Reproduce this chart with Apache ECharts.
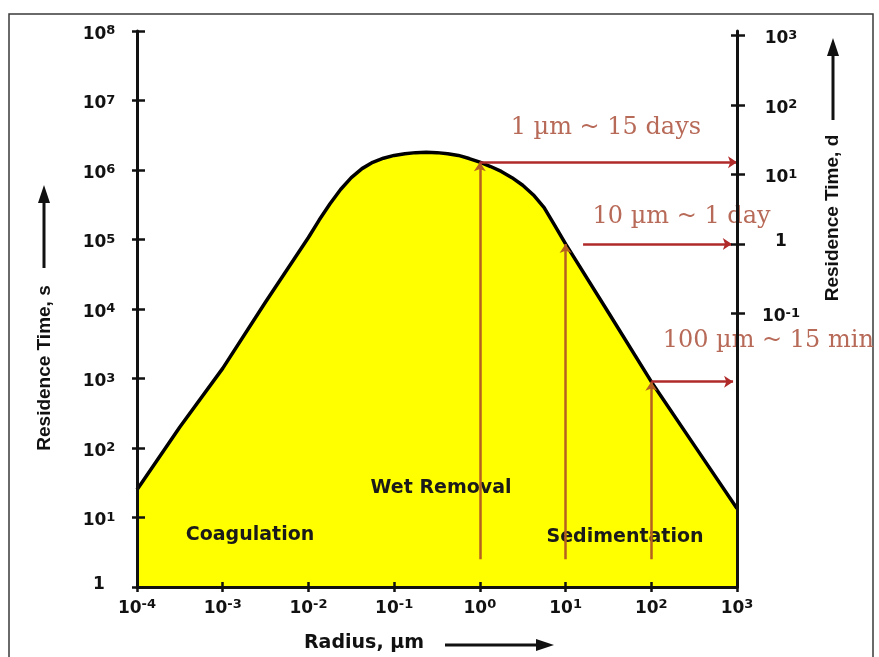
<!DOCTYPE html>
<html>
<head>
<meta charset="utf-8">
<style>
  html, body { margin: 0; padding: 0; background: #ffffff; }
  #chart { width: 879px; height: 657px; }
</style>
<script src="https://cdn.jsdelivr.net/npm/echarts@6/dist/echarts.min.js"></script>
</head>
<body>
<div id="chart"></div>
<script>
// Particle radius (µm) and atmospheric residence time (s)
const radiusUm = [
  1e-4, 3.162e-4, 1e-3, 3.162e-3,
  0.01, 0.01334, 0.01778, 0.02371, 0.03162, 0.04217, 0.05623, 0.07499,
  0.1, 0.1334, 0.1778, 0.2371, 0.3162, 0.4217, 0.5623, 0.7499,
  1, 1.334, 1.778, 2.371, 3.162, 4.217, 5.623, 7.499,
  10, 31.62, 100, 316.2, 1000
];
const residenceSec = [
  25, 200, 1400, 12600,
  1.07e5, 1.905e5, 3.24e5, 5.25e5, 7.76e5, 1.047e6, 1.288e6, 1.479e6,
  1.622e6, 1.718e6, 1.778e6, 1.799e6, 1.778e6, 1.718e6, 1.622e6, 1.462e6,
  1.296e6, 1.122e6, 9.55e5, 7.76e5, 6.03e5, 4.37e5, 2.88e5, 1.585e5,
  86400, 8900, 900, 110, 13.5
];

// Tick values
const xTickValues = [1e-4, 1e-3, 1e-2, 1e-1, 1, 10, 100, 1000];
const leftTickValues = [1, 10, 100, 1e3, 1e4, 1e5, 1e6, 1e7, 1e8];
const rightTickDays = [0.1, 1, 10, 100, 1000];
const SECONDS_PER_DAY = 86400;

// Highlighted radii and their residence times (s)
const markerRadius = [1, 10, 100];
const markerSec = [15 * SECONDS_PER_DAY, SECONDS_PER_DAY, 15 * 60];
const markerText = ['1 \u00b5m ~ 15 days', '10 \u00b5m ~ 1 day', '100 \u00b5m ~ 15 min'];
const arrowFootSec = 2.5;
const pointerStartUm = [1, 16, 100];
const pointerEndUm = [1000, 870, 900];

// Removal regimes
const regionNames = ['Coagulation', 'Wet Removal', 'Sedimentation'];

const chart = echarts.init(document.getElementById('chart'), null, { renderer: 'canvas' });

function powText(e) {
  return '{b|10}{s|' + (e < 0 ? '-' : '') + Math.abs(e) + '}';
}
// y axes write 10^0 as a plain "1"
function powLabelY(v) {
  const e = Math.round(Math.log10(v));
  return e === 0 ? '{b|1}' : powText(e);
}
function powLabelX(v) {
  return powText(Math.round(Math.log10(v)));
}
const tickRich = {
  b: { fontFamily: 'DejaVu Sans', fontWeight: 'bold', fontSize: 17, color: '#111', lineHeight: 12, verticalAlign: 'bottom' },
  s: { fontFamily: 'DejaVu Sans', fontWeight: 'bold', fontSize: 13, color: '#111', lineHeight: 24 }
};
const AXIS_COLOR = '#111';

function axisBase(extra) {
  return Object.assign({
    type: 'log',
    logBase: 10,
    z: 5,
    splitLine: { show: false },
    minorTick: { show: false },
    minorSplitLine: { show: false }
  }, extra);
}

const xMain = axisBase({
  position: 'bottom', min: 1e-4, max: 1e3,
  axisLine: { show: true, lineStyle: { color: AXIS_COLOR, width: 3 } },
  axisTick: { show: true, length: 5, customValues: xTickValues, lineStyle: { color: AXIS_COLOR, width: 2.5 } },
  axisLabel: { show: true, customValues: xTickValues, formatter: powLabelX, rich: tickRich, margin: 6 }
});
const xInner = axisBase({
  position: 'bottom', min: 1e-4, max: 1e3,
  axisLine: { show: false },
  axisTick: { show: true, inside: true, length: 5, customValues: xTickValues, lineStyle: { color: AXIS_COLOR, width: 2.5 } },
  axisLabel: { show: false }
});
const yLeft = axisBase({
  position: 'left', min: 1, max: 1e8,
  axisLine: { show: true, lineStyle: { color: AXIS_COLOR, width: 3 } },
  axisTick: { show: true, length: 5, customValues: leftTickValues, lineStyle: { color: AXIS_COLOR, width: 2.5 } },
  axisLabel: { show: true, customValues: leftTickValues, formatter: powLabelY, rich: tickRich, align: 'center', margin: 38 }
});
const yRight = axisBase({
  position: 'right', min: 1 / SECONDS_PER_DAY, max: 1e8 / SECONDS_PER_DAY,
  axisLine: { show: true, lineStyle: { color: AXIS_COLOR, width: 3 } },
  axisTick: { show: true, length: 8, customValues: rightTickDays, lineStyle: { color: AXIS_COLOR, width: 2.5 } },
  axisLabel: { show: true, customValues: rightTickDays, formatter: powLabelY, rich: tickRich, align: 'center', margin: 44 }
});
const yLeftInner = axisBase({
  position: 'left', min: 1, max: 1e8,
  axisLine: { show: false },
  axisTick: { show: true, inside: true, length: 8, customValues: leftTickValues, lineStyle: { color: AXIS_COLOR, width: 2.5 } },
  axisLabel: { show: false }
});
const yRightInner = axisBase({
  position: 'right', min: 1 / SECONDS_PER_DAY, max: 1e8 / SECONDS_PER_DAY,
  axisLine: { show: false },
  axisTick: { show: true, inside: true, length: 6, customValues: rightTickDays, lineStyle: { color: AXIS_COLOR, width: 2.5 } },
  axisLabel: { show: false }
});

const verticalArrows = markerRadius.map((r, i) => ({ coords: [[r, arrowFootSec], [r, markerSec[i]]] }));
const horizontalArrows = markerRadius.map((r, i) => ({ coords: [[pointerStartUm[i], markerSec[i]], [pointerEndUm[i], markerSec[i]]] }));

chart.setOption({
  animation: false,
  backgroundColor: '#ffffff',
  grid: { left: 137, right: 142, top: 31, bottom: 70, containLabel: false },
  xAxis: [xMain, xInner],
  yAxis: [yLeft, yRight, yLeftInner, yRightInner],
  series: [
    {
      name: 'Residence time',
      type: 'line',
      xAxisIndex: 0,
      yAxisIndex: 0,
      z: 1,
      data: radiusUm.map((r, i) => [r, residenceSec[i]]),
      showSymbol: false,
      smooth: false,
      lineStyle: { color: '#000000', width: 3.5, join: 'round' },
      areaStyle: { color: '#ffff00', opacity: 1, origin: 'start' }
    },
    {
      name: 'Radius markers',
      type: 'lines',
      coordinateSystem: 'cartesian2d',
      xAxisIndex: 0,
      yAxisIndex: 0,
      z: 3,
      symbol: ['none', 'arrow'],
      symbolSize: 9,
      lineStyle: { color: '#b5611f', width: 2.5, opacity: 1 },
      itemStyle: { color: '#c8281e' },
      data: verticalArrows
    },
    {
      name: 'Time markers',
      type: 'lines',
      coordinateSystem: 'cartesian2d',
      xAxisIndex: 0,
      yAxisIndex: 0,
      z: 3,
      symbol: ['none', 'arrow'],
      symbolSize: 9,
      lineStyle: { color: '#b02a2a', width: 2.5, opacity: 1 },
      itemStyle: { color: '#c8281e' },
      data: horizontalArrows
    }
  ]
});

// Annotations placed next to the marked points
const annotationOffsets = [[126, -34], [116, -27], [117, -41]];
const toPx = (x, y) => chart.convertToPixel({ xAxisIndex: 0, yAxisIndex: 0 }, [x, y]);

const graphics = [];
// outer frame
graphics.push({
  type: 'rect', z: 0, silent: true,
  shape: { x: 9, y: 14, width: 864, height: 700 },
  style: { fill: 'none', stroke: '#3a3a3a', lineWidth: 1.5 }
});

markerRadius.forEach((r, i) => {
  const p = toPx(r, markerSec[i]);
  graphics.push({
    type: 'text', z: 2, silent: true,
    x: p[0] + annotationOffsets[i][0], y: p[1] + annotationOffsets[i][1],
    style: {
      text: markerText[i], fill: '#b86a58',
      font: '24px "DejaVu Serif"', align: 'center', verticalAlign: 'middle'
    }
  });
});

const regionPos = [[250, 535], [441, 488], [625, 537]];
regionNames.forEach((name, i) => {
  graphics.push({
    type: 'text', z: 2, silent: true,
    x: regionPos[i][0], y: regionPos[i][1],
    style: {
      text: name, fill: '#1a1a1a',
      font: 'bold 19px "DejaVu Sans"', align: 'center', verticalAlign: 'middle'
    }
  });
});

// axis titles with direction arrows
function arrowUp(x, yTop, yBottom) {
  return [
    { type: 'line', z: 2, silent: true, shape: { x1: x, y1: yBottom, x2: x, y2: yTop + 14 }, style: { stroke: '#111', lineWidth: 3 } },
    { type: 'polygon', z: 2, silent: true, shape: { points: [[x, yTop], [x - 6, yTop + 18], [x + 6, yTop + 18]] }, style: { fill: '#111' } }
  ];
}
graphics.push(...arrowUp(44, 185, 268));
graphics.push(...arrowUp(833, 38, 120));
graphics.push(
  { type: 'line', z: 2, silent: true, shape: { x1: 445, y1: 645, x2: 540, y2: 645 }, style: { stroke: '#111', lineWidth: 3 } },
  { type: 'polygon', z: 2, silent: true, shape: { points: [[554, 645], [536, 639], [536, 651]] }, style: { fill: '#111' } }
);
graphics.push({
  type: 'text', z: 2, silent: true, x: 45, y: 368, rotation: Math.PI / 2,
  style: { text: 'Residence Time, s', fill: '#111', font: 'bold 19px "Liberation Sans"', align: 'center', verticalAlign: 'middle' }
});
graphics.push({
  type: 'text', z: 2, silent: true, x: 833, y: 218, rotation: Math.PI / 2,
  style: { text: 'Residence Time, d', fill: '#111', font: 'bold 19px "Liberation Sans"', align: 'center', verticalAlign: 'middle' }
});
graphics.push({
  type: 'text', z: 2, silent: true, x: 364, y: 643,
  style: { text: 'Radius, \u00b5m', fill: '#111', font: 'bold 19px "DejaVu Sans"', align: 'center', verticalAlign: 'middle' }
});

chart.setOption({ graphic: graphics });
</script>
</body>
</html>
